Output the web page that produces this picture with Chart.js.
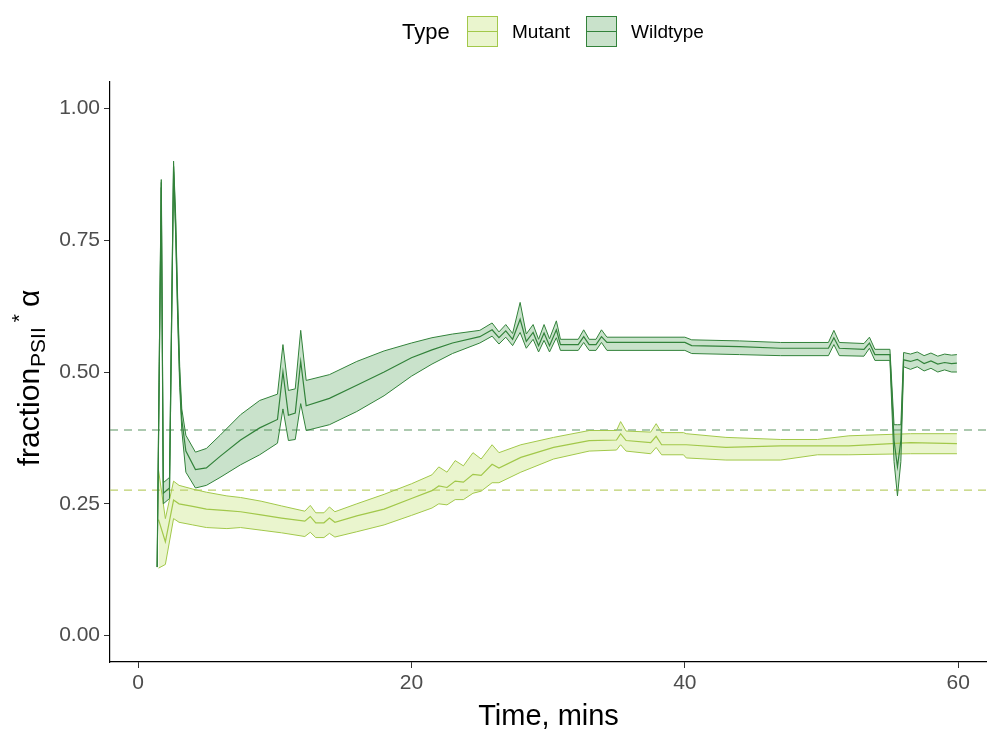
<!DOCTYPE html>
<html>
<head>
<meta charset="utf-8">
<title>fraction PSII over time</title>
<script src="https://cdn.jsdelivr.net/npm/chart.js"></script>
<style>
  html, body { margin: 0; padding: 0; background: #fff; }
  canvas { display: block; }
</style>
</head>
<body>
<canvas id="myChart" width="987" height="733"></canvas>
<script>
// Wildtype: time (mins) with lower bound, mean and upper bound of the ribbon
var wtTime = [1.4, 1.55, 1.7, 1.85, 2.3, 2.6, 2.75, 2.9, 3.05, 3.2, 3.5, 4.2, 5.0, 6.0, 7.5, 8.9, 10.2, 10.6, 11.0, 11.5, 11.9, 12.3, 14, 16, 18, 20, 21.5, 23, 25, 25.9, 26.4, 26.9, 27.4, 27.95, 28.4, 28.9, 29.3, 29.7, 30.1, 30.6, 30.9, 32.2, 32.6, 33.0, 33.5, 33.9, 34.3, 40.0, 40.5, 44, 47, 50.5, 50.9, 51.3, 53.1, 53.5, 53.9, 55.0, 55.3, 55.55, 55.8, 56.0, 56.5, 57, 57.5, 58, 58.5, 59, 59.5, 59.9];
var wtLow  = [0.13, 0.48, 0.85, 0.25, 0.26, 0.88, 0.76, 0.60, 0.47, 0.39, 0.31, 0.28, 0.285, 0.30, 0.324, 0.343, 0.365, 0.43, 0.37, 0.372, 0.44, 0.389, 0.40, 0.425, 0.455, 0.492, 0.515, 0.535, 0.555, 0.568, 0.553, 0.566, 0.55, 0.575, 0.545, 0.562, 0.538, 0.56, 0.538, 0.565, 0.541, 0.541, 0.556, 0.541, 0.541, 0.556, 0.541, 0.541, 0.535, 0.533, 0.531, 0.531, 0.552, 0.531, 0.53, 0.545, 0.522, 0.522, 0.33, 0.265, 0.33, 0.51, 0.505, 0.51, 0.502, 0.507, 0.5, 0.504, 0.5, 0.5];
var wtMean = [0.13, 0.50, 0.86, 0.27, 0.28, 0.89, 0.78, 0.62, 0.49, 0.41, 0.35, 0.315, 0.318, 0.34, 0.371, 0.394, 0.41, 0.50, 0.418, 0.422, 0.52, 0.436, 0.45, 0.475, 0.50, 0.527, 0.542, 0.555, 0.567, 0.58, 0.565, 0.578, 0.562, 0.60, 0.558, 0.575, 0.55, 0.574, 0.55, 0.58, 0.552, 0.552, 0.567, 0.552, 0.552, 0.567, 0.556, 0.556, 0.55, 0.548, 0.545, 0.545, 0.565, 0.545, 0.543, 0.555, 0.533, 0.533, 0.37, 0.32, 0.37, 0.523, 0.52, 0.524, 0.516, 0.521, 0.515, 0.518, 0.516, 0.517];
var wtHigh = [0.13, 0.52, 0.865, 0.29, 0.30, 0.90, 0.80, 0.64, 0.51, 0.43, 0.38, 0.348, 0.355, 0.38, 0.419, 0.446, 0.458, 0.552, 0.465, 0.468, 0.579, 0.484, 0.495, 0.52, 0.54, 0.555, 0.565, 0.572, 0.579, 0.593, 0.576, 0.59, 0.573, 0.632, 0.572, 0.59, 0.562, 0.59, 0.563, 0.597, 0.562, 0.562, 0.58, 0.562, 0.562, 0.58, 0.566, 0.566, 0.561, 0.559, 0.556, 0.556, 0.579, 0.556, 0.554, 0.566, 0.543, 0.543, 0.40, 0.40, 0.40, 0.537, 0.534, 0.538, 0.531, 0.536, 0.53, 0.534, 0.532, 0.533];

// Mutant: time (mins) with lower bound, mean and upper bound of the ribbon
var mutTime = [1.5, 2.0, 2.6, 3.0, 4.0, 5.0, 6.5, 7.5, 9.0, 10.5, 12.2, 12.6, 13.0, 13.6, 14.0, 14.4, 16, 18, 20, 21.5, 22.0, 22.6, 23.2, 23.8, 24.5, 25.1, 25.9, 26.4, 28, 30.4, 33, 35, 35.3, 35.7, 37.5, 37.9, 38.3, 39.9, 40.1, 43, 47, 49.7, 52, 56.5, 59.9];
var mutLow  = [0.128, 0.135, 0.222, 0.215, 0.21, 0.205, 0.203, 0.205, 0.2, 0.195, 0.188, 0.196, 0.186, 0.186, 0.194, 0.187, 0.197, 0.21, 0.228, 0.242, 0.25, 0.248, 0.258, 0.258, 0.27, 0.274, 0.29, 0.29, 0.31, 0.335, 0.35, 0.352, 0.362, 0.35, 0.345, 0.357, 0.343, 0.343, 0.337, 0.333, 0.333, 0.343, 0.343, 0.345, 0.345];
var mutMean = [0.22, 0.178, 0.257, 0.25, 0.245, 0.24, 0.237, 0.235, 0.229, 0.223, 0.217, 0.226, 0.214, 0.214, 0.223, 0.215, 0.227, 0.24, 0.26, 0.275, 0.284, 0.281, 0.293, 0.291, 0.306, 0.304, 0.325, 0.318, 0.338, 0.357, 0.37, 0.371, 0.383, 0.37, 0.366, 0.378, 0.362, 0.362, 0.362, 0.357, 0.36, 0.36, 0.36, 0.366, 0.364];
var mutHigh = [0.314, 0.222, 0.293, 0.285, 0.278, 0.272, 0.265, 0.262, 0.255, 0.246, 0.236, 0.247, 0.233, 0.233, 0.244, 0.235, 0.25, 0.268, 0.288, 0.305, 0.32, 0.31, 0.332, 0.322, 0.347, 0.335, 0.362, 0.347, 0.362, 0.376, 0.389, 0.389, 0.406, 0.388, 0.386, 0.402, 0.385, 0.385, 0.383, 0.376, 0.372, 0.372, 0.379, 0.383, 0.383];

// overall averages drawn as dashed reference lines
var wtRef = 0.39;
var mutRef = 0.276;

var xTicks = [0, 20, 40, 60];
var yTicks = [0, 0.25, 0.5, 0.75, 1];
var xMin = -2.05, xMax = 62.1;

var wtLine = '#32823a', wtFill = 'rgba(60,150,70,0.28)', wtDash = '#5a9460';
var mutLine = '#a2c84a', mutFill = 'rgba(180,220,80,0.28)', mutDash = '#bccf6c';
var fontFamily = '"Liberation Sans", Arial, sans-serif';

Chart.defaults.font.family = fontFamily;

function toPoints(times, vals) {
  return times.map(function (t, i) { return { x: t, y: vals[i] }; });
}

// upper line filled down to the lower line, then the mean line
function ribbon(name, times, low, mean, high, line, fill) {
  return [
    { label: name + ' upper', data: toPoints(times, high), borderColor: line, backgroundColor: fill, borderWidth: 1, fill: '+1' },
    { label: name + ' lower', data: toPoints(times, low), borderColor: line, borderWidth: 1, fill: false },
    { label: name, data: toPoints(times, mean), borderColor: line, borderWidth: 1.2, fill: false }
  ];
}

function hline(value, color) {
  return { label: 'ref', data: [{ x: xMin, y: value }, { x: xMax, y: value }], borderColor: color, borderWidth: 1.2, borderDash: [8, 6], fill: false };
}

// legend key: tinted square with a centre line
function drawKey(ctx, x, y, line, fill) {
  ctx.fillStyle = '#fff';
  ctx.fillRect(x, y, 31, 31);
  ctx.fillStyle = fill;
  ctx.fillRect(x, y, 31, 31);
  ctx.strokeStyle = line;
  ctx.lineWidth = 1;
  ctx.strokeRect(x + 0.5, y + 0.5, 30, 30);
  ctx.beginPath();
  ctx.moveTo(x + 1, y + 15.5);
  ctx.lineTo(x + 30, y + 15.5);
  ctx.stroke();
}

// legend, axis titles (y title needs sub/superscripts)
var extras = {
  id: 'extras',
  afterDraw: function (chart) {
    var ctx = chart.ctx;
    var area = chart.chartArea;
    ctx.save();
    ctx.fillStyle = '#000';
    ctx.textBaseline = 'middle';
    ctx.textAlign = 'left';
    ctx.font = '22px ' + fontFamily;
    ctx.fillText('Type', 402, 33);
    drawKey(ctx, 467, 16, mutLine, mutFill);
    drawKey(ctx, 586, 16, wtLine, wtFill);
    ctx.fillStyle = '#000';
    ctx.font = '19px ' + fontFamily;
    ctx.fillText('Mutant', 512, 33);
    ctx.fillText('Wildtype', 631, 33);

    ctx.textAlign = 'center';
    ctx.font = '29px ' + fontFamily;
    ctx.fillText('Time, mins', (area.left + area.right) / 2, 717);

    var big = '30px ' + fontFamily, small = '21px ' + fontFamily;
    var parts = [
      { t: 'fraction', f: big, dy: 0, gap: 0 },
      { t: 'PSII', f: small, dy: 6, gap: 1 },
      { t: '*', f: small, dy: -13, gap: 5 },
      { t: '\u03b1', f: big, dy: 0, gap: 7 }
    ];
    var total = 0;
    parts.forEach(function (p) { ctx.font = p.f; p.w = ctx.measureText(p.t).width; total += p.w + p.gap; });
    ctx.translate(39, (area.top + area.bottom) / 2 + 6);
    ctx.rotate(-Math.PI / 2);
    ctx.textAlign = 'left';
    ctx.textBaseline = 'alphabetic';
    var pos = -total / 2;
    parts.forEach(function (p) {
      pos += p.gap;
      ctx.font = p.f;
      ctx.fillText(p.t, pos, p.dy);
      pos += p.w;
    });
    ctx.restore();
  }
};

var ctx = document.getElementById('myChart').getContext('2d');

var myChart = new Chart(ctx, {
  type: 'line',
  data: {
    datasets: ribbon('Wildtype', wtTime, wtLow, wtMean, wtHigh, wtLine, wtFill)
      .concat(ribbon('Mutant', mutTime, mutLow, mutMean, mutHigh, mutLine, mutFill))
      .concat([hline(wtRef, wtDash), hline(mutRef, mutDash)])
  },
  options: {
    responsive: false,
    animation: false,
    layout: { padding: { top: 82, left: 0, right: 0, bottom: 0 } },
    elements: { point: { radius: 0 }, line: { tension: 0 } },
    plugins: {
      legend: { display: false },
      tooltip: { enabled: false },
      filler: { drawTime: 'beforeDatasetsDraw' }
    },
    scales: {
      x: {
        type: 'linear',
        min: xMin,
        max: xMax,
        afterBuildTicks: function (axis) { axis.ticks = xTicks.map(function (v) { return { value: v }; }); },
        afterFit: function (axis) { axis.height = 71; },
        ticks: { color: '#4d4d4d', font: { size: 21 }, padding: 3, maxRotation: 0, autoSkip: false },
        grid: { drawOnChartArea: false, drawTicks: true, tickLength: 6, color: '#333' },
        border: { display: true, color: '#000', width: 1.2 }
      },
      y: {
        min: -0.05,
        max: 1.05,
        afterBuildTicks: function (axis) { axis.ticks = yTicks.map(function (v) { return { value: v }; }); },
        afterFit: function (axis) { axis.width = 110; },
        ticks: { color: '#4d4d4d', font: { size: 21 }, padding: 4, callback: function (v) { return v.toFixed(2); } },
        grid: { drawOnChartArea: false, drawTicks: true, tickLength: 6, color: '#333' },
        border: { display: true, color: '#000', width: 1.2 }
      }
    }
  },
  plugins: [extras]
});
</script>
</body>
</html>
